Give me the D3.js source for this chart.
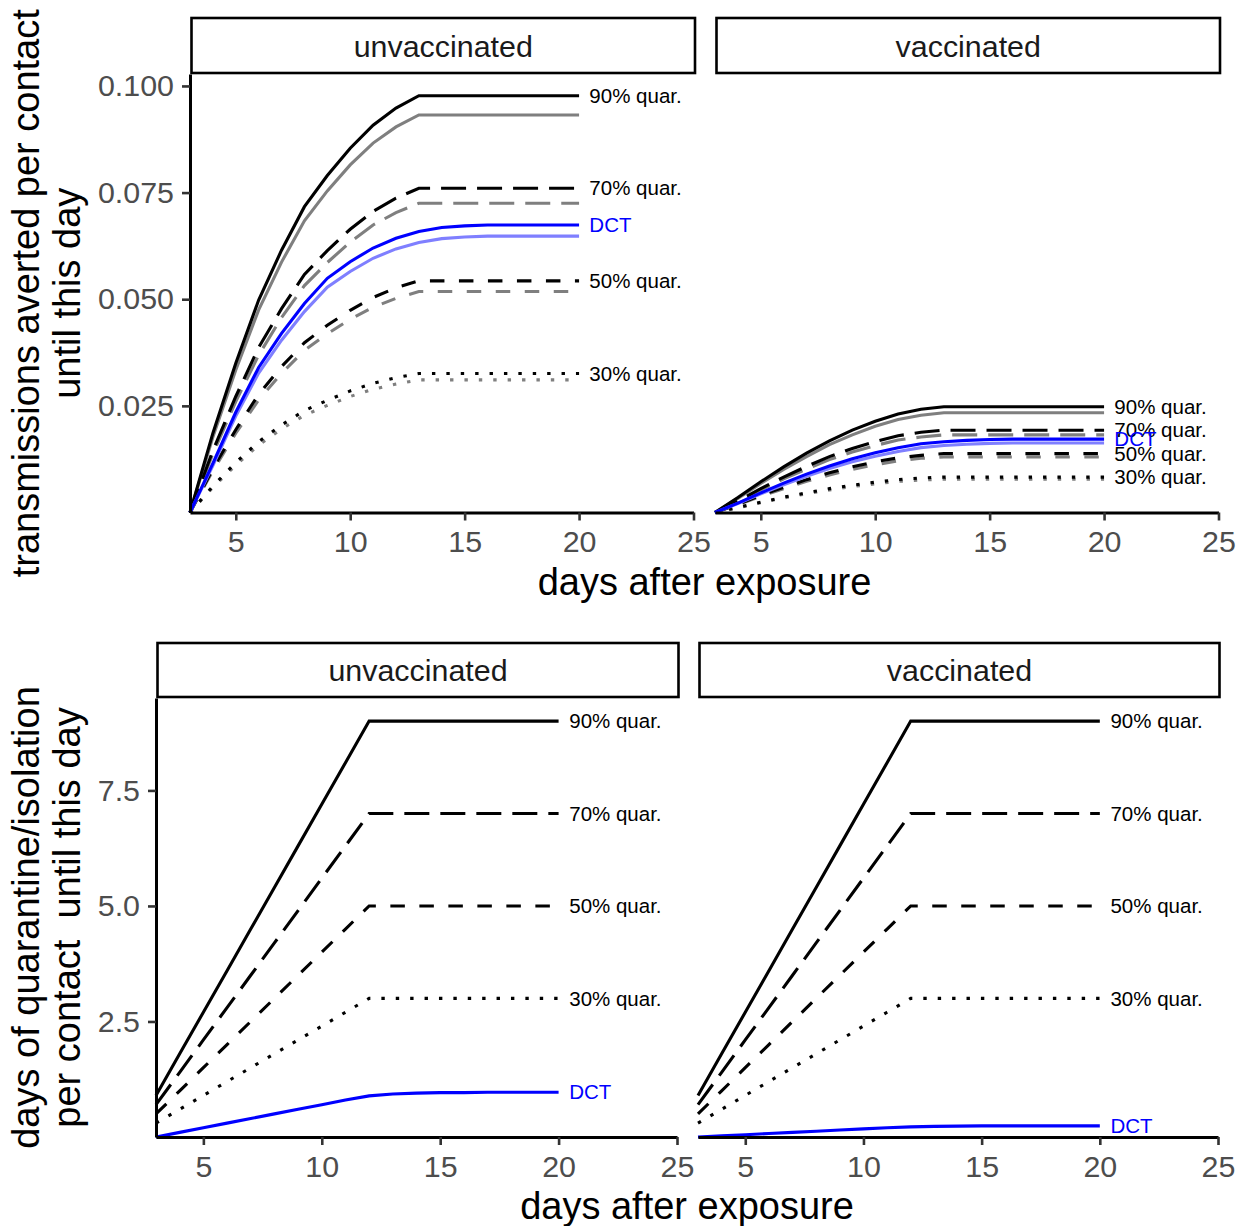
<!DOCTYPE html>
<html>
<head>
<meta charset="utf-8">
<script src="https://cdn.jsdelivr.net/npm/d3@7"></script>
<style>
  body { margin: 0; background: #fff; }
  text { font-family: "Liberation Sans", Arial, Helvetica, sans-serif; }
</style>
</head>
<body>
<svg id="chart" width="1239" height="1226"></svg>
<script>
// days after exposure
const days = [3,4,5,6,7,8,9,10,11,12,13,14,15,16,17,18,19,20];
const xTicks = [5,10,15,20,25];
const topYTicks = [0.025,0.05,0.075,0.1];
const bottomYTicks = [2.5,5,7.5];
const facets = ["unvaccinated","vaccinated"];

// transmissions averted per contact, unvaccinated (black = test, grey = other scenario)
const avU90  = [0,0.0186,0.0350,0.0498,0.0615,0.0717,0.0790,0.0854,0.0908,0.0948,0.0977,0.0977,0.0977,0.0977,0.0977,0.0977,0.0977,0.0977];
const avU90g = [0,0.0177,0.0334,0.0475,0.0587,0.0684,0.0754,0.0815,0.0866,0.0904,0.0932,0.0932,0.0932,0.0932,0.0932,0.0932,0.0932,0.0932];
const avU70  = [0,0.0145,0.0272,0.0387,0.0478,0.0558,0.0614,0.0664,0.0706,0.0737,0.0760,0.0760,0.0760,0.0760,0.0760,0.0760,0.0760,0.0760];
const avU70g = [0,0.0138,0.0260,0.0369,0.0457,0.0532,0.0586,0.0634,0.0674,0.0703,0.0725,0.0725,0.0725,0.0725,0.0725,0.0725,0.0725,0.0725];
const avU50  = [0,0.0103,0.0194,0.0277,0.0342,0.0398,0.0439,0.0474,0.0504,0.0527,0.0543,0.0543,0.0543,0.0543,0.0543,0.0543,0.0543,0.0543];
const avU50g = [0,0.0098,0.0186,0.0264,0.0326,0.0380,0.0419,0.0453,0.0481,0.0502,0.0518,0.0518,0.0518,0.0518,0.0518,0.0518,0.0518,0.0518];
const avU30  = [0,0.0062,0.0117,0.0166,0.0205,0.0239,0.0263,0.0285,0.0303,0.0316,0.0326,0.0326,0.0326,0.0326,0.0326,0.0326,0.0326,0.0326];
const avU30g = [0,0.0059,0.0111,0.0158,0.0196,0.0228,0.0251,0.0272,0.0289,0.0301,0.0311,0.0311,0.0311,0.0311,0.0311,0.0311,0.0311,0.0311];
const avUdct  = [0,0.0115,0.0235,0.0340,0.0420,0.0490,0.0549,0.0588,0.0620,0.0643,0.0659,0.0668,0.0672,0.0674,0.0674,0.0674,0.0674,0.0674];
const avUdctg = [0,0.0110,0.0226,0.0327,0.0404,0.0471,0.0528,0.0565,0.0596,0.0618,0.0633,0.0642,0.0646,0.0648,0.0648,0.0648,0.0648,0.0648];

// transmissions averted per contact, vaccinated
const avV90  = [0,0.0035,0.0072,0.0107,0.0139,0.0168,0.0193,0.0214,0.0231,0.0242,0.0248,0.0248,0.0248,0.0248,0.0248,0.0248,0.0248,0.0248];
const avV90g = [0,0.0033,0.0068,0.0101,0.0131,0.0159,0.0182,0.0202,0.0218,0.0228,0.0234,0.0234,0.0234,0.0234,0.0234,0.0234,0.0234,0.0234];
const avV70  = [0,0.0027,0.0056,0.0083,0.0108,0.0131,0.0150,0.0166,0.0180,0.0188,0.0193,0.0193,0.0193,0.0193,0.0193,0.0193,0.0193,0.0193];
const avV70g = [0,0.0026,0.0053,0.0079,0.0102,0.0124,0.0142,0.0157,0.0170,0.0177,0.0182,0.0182,0.0182,0.0182,0.0182,0.0182,0.0182,0.0182];
const avV50  = [0,0.0019,0.0040,0.0059,0.0077,0.0093,0.0107,0.0119,0.0128,0.0134,0.0138,0.0138,0.0138,0.0138,0.0138,0.0138,0.0138,0.0138];
const avV50g = [0,0.0018,0.0038,0.0056,0.0073,0.0088,0.0101,0.0112,0.0121,0.0127,0.0130,0.0130,0.0130,0.0130,0.0130,0.0130,0.0130,0.0130];
const avV30  = [0,0.0012,0.0024,0.0036,0.0046,0.0056,0.0064,0.0071,0.0077,0.0081,0.0083,0.0083,0.0083,0.0083,0.0083,0.0083,0.0083,0.0083];
const avV30g = [0,0.0011,0.0023,0.0034,0.0044,0.0053,0.0061,0.0067,0.0073,0.0076,0.0078,0.0078,0.0078,0.0078,0.0078,0.0078,0.0078,0.0078];
const avVdct  = [0,0.0022,0.0046,0.0069,0.0090,0.0109,0.0126,0.0140,0.0152,0.0161,0.0166,0.0169,0.0171,0.0172,0.0172,0.0172,0.0172,0.0172];
const avVdctg = [0,0.0021,0.0044,0.0065,0.0085,0.0103,0.0119,0.0132,0.0143,0.0152,0.0157,0.0160,0.0162,0.0163,0.0163,0.0163,0.0163,0.0163];

// days of quarantine/isolation per contact (same for both groups, except DCT)
const q90 = [0.9,1.8,2.7,3.6,4.5,5.4,6.3,7.2,8.1,9,9,9,9,9,9,9,9,9];
const q70 = [0.7,1.4,2.1,2.8,3.5,4.2,4.9,5.6,6.3,7,7,7,7,7,7,7,7,7];
const q50 = [0.5,1,1.5,2,2.5,3,3.5,4,4.5,5,5,5,5,5,5,5,5,5];
const q30 = [0.3,0.6,0.9,1.2,1.5,1.8,2.1,2.4,2.7,3,3,3,3,3,3,3,3,3];
const qUdct = [0,0.1,0.2,0.3,0.4,0.5,0.6,0.7,0.8,0.89,0.93,0.95,0.96,0.96,0.97,0.97,0.97,0.97];
const qVdct = [0,0.025,0.05,0.075,0.1,0.125,0.15,0.175,0.2,0.22,0.23,0.235,0.24,0.24,0.24,0.24,0.24,0.24];

const labelNames = ["90% quar.","70% quar.","50% quar.","30% quar.","DCT"];

const BLACK = "#000000", GREY = "#7f7f7f", BLUE = "#0000ff", LBLUE = "#7f7fff";
const dashes = { solid: null, long: "25,11", dash: "14.5,14.5", dot: "3.4,11" };
const lw = 3.1;

function s(vals, col, dash) { return { vals, col, dash }; }

const rows = [
  {
    y0: 512.5, y1: 74, yMax: 0.1028, yTicks: topYTicks, fmt: d3.format(".3f"),
    xr: [[190, 693.5], [715, 1218.5]], stripTop: 18, stripH: 55,
    title: ["transmissions averted per contact", "until this day"],
    xTitleX: 704.5, xTitleY: 595,
    panels: [
      { series: [s(avU90g,GREY,"solid"), s(avU70g,GREY,"long"), s(avU50g,GREY,"dash"), s(avU30g,GREY,"dot"),
                 s(avU90,BLACK,"solid"), s(avU70,BLACK,"long"), s(avU50,BLACK,"dash"), s(avU30,BLACK,"dot"),
                 s(avUdctg,LBLUE,"solid"), s(avUdct,BLUE,"solid")],
        labels: [avU90, avU70, avU50, avU30, avUdct] },
      { series: [s(avV90g,GREY,"solid"), s(avV70g,GREY,"long"), s(avV50g,GREY,"dash"), s(avV30g,GREY,"dot"),
                 s(avV90,BLACK,"solid"), s(avV70,BLACK,"long"), s(avV50,BLACK,"dash"), s(avV30,BLACK,"dot"),
                 s(avVdctg,LBLUE,"solid"), s(avVdct,BLUE,"solid")],
        labels: [avV90, avV70, avV50, avV30, avVdct] }
    ]
  },
  {
    y0: 1137, y1: 698, yMax: 9.5, yTicks: bottomYTicks, fmt: d3.format(".1f"),
    xr: [[156, 677], [698, 1218]], stripTop: 643, stripH: 54,
    title: ["days of quarantine/isolation", "per contact  until this day"],
    xTitleX: 687, xTitleY: 1219,
    panels: [
      { series: [s(q90,BLACK,"solid"), s(q70,BLACK,"long"), s(q50,BLACK,"dash"), s(q30,BLACK,"dot"), s(qUdct,BLUE,"solid")],
        labels: [q90, q70, q50, q30, qUdct] },
      { series: [s(q90,BLACK,"solid"), s(q70,BLACK,"long"), s(q50,BLACK,"dash"), s(q30,BLACK,"dot"), s(qVdct,BLUE,"solid")],
        labels: [q90, q70, q50, q30, qVdct] }
    ]
  }
];

const svg = d3.select("#chart");

function styleAxis(ax) {
  ax.select(".domain").attr("stroke", "#000").attr("stroke-width", 3);
  ax.selectAll(".tick line").attr("stroke", "#333").attr("stroke-width", 2.6);
  ax.selectAll(".tick text").attr("fill", "#4d4d4d").style("font-size", "30.4px")
    .style("font-family", '"Liberation Sans", Arial, sans-serif');
}

rows.forEach(row => {
  const y = d3.scaleLinear().domain([0, row.yMax]).range([row.y0, row.y1]);

  row.panels.forEach((p, i) => {
    const x = d3.scaleLinear().domain([3, 25]).range(row.xr[i]);
    const g = svg.append("g");

    // strip
    g.append("rect")
      .attr("x", x.range()[0] + 1.5).attr("y", row.stripTop)
      .attr("width", x.range()[1] - x.range()[0]).attr("height", row.stripH)
      .attr("fill", "#fff").attr("stroke", "#000").attr("stroke-width", 2.6);
    g.append("text")
      .attr("x", (x.range()[0] + x.range()[1]) / 2 + 1.5)
      .attr("y", row.stripTop + row.stripH / 2 + 11)
      .attr("text-anchor", "middle").attr("fill", "#1a1a1a")
      .style("font-size", "30.4px")
      .text(facets[i]);

    const line = d3.line().x((d, j) => x(days[j])).y(d => y(d));
    g.selectAll("path.series")
      .data(p.series)
      .enter().append("path")
      .attr("class", "series")
      .attr("d", d => line(d.vals))
      .attr("fill", "none")
      .attr("stroke", d => d.col)
      .attr("stroke-width", lw)
      .attr("stroke-dasharray", d => dashes[d.dash]);

    // line labels at the right end
    g.selectAll("text.lab")
      .data(p.labels)
      .enter().append("text")
      .attr("class", "lab")
      .attr("x", x(20.45))
      .attr("y", d => y(d[d.length - 1]))
      .attr("dy", "0.35em")
      .attr("fill", (d, j) => labelNames[j] === "DCT" ? BLUE : "#000")
      .style("font-size", "20.5px")
      .text((d, j) => labelNames[j]);

    const xa = g.append("g")
      .attr("transform", `translate(0,${row.y0})`)
      .call(d3.axisBottom(x).tickValues(xTicks).tickSize(8).tickSizeOuter(0).tickPadding(10));
    styleAxis(xa);

    if (i === 0) {
      const ya = g.append("g")
        .attr("transform", `translate(${x.range()[0]},0)`)
        .call(d3.axisLeft(y).tickValues(row.yTicks).tickFormat(row.fmt).tickSize(8).tickSizeOuter(0).tickPadding(8));
      styleAxis(ya);
    }
  });

  // axis titles
  svg.append("text")
    .attr("x", row.xTitleX).attr("y", row.xTitleY)
    .attr("text-anchor", "middle").style("font-size", "38px")
    .text("days after exposure");

  const cy = (row.y0 + row.y1) / 2;
  row.title.forEach((t, k) => {
    svg.append("text")
      .attr("transform", `translate(${39 + k * 41},${cy}) rotate(-90)`)
      .attr("text-anchor", "middle").style("font-size", "38px")
      .style("white-space", "pre")
      .text(t);
  });
});
</script>
</body>
</html>
